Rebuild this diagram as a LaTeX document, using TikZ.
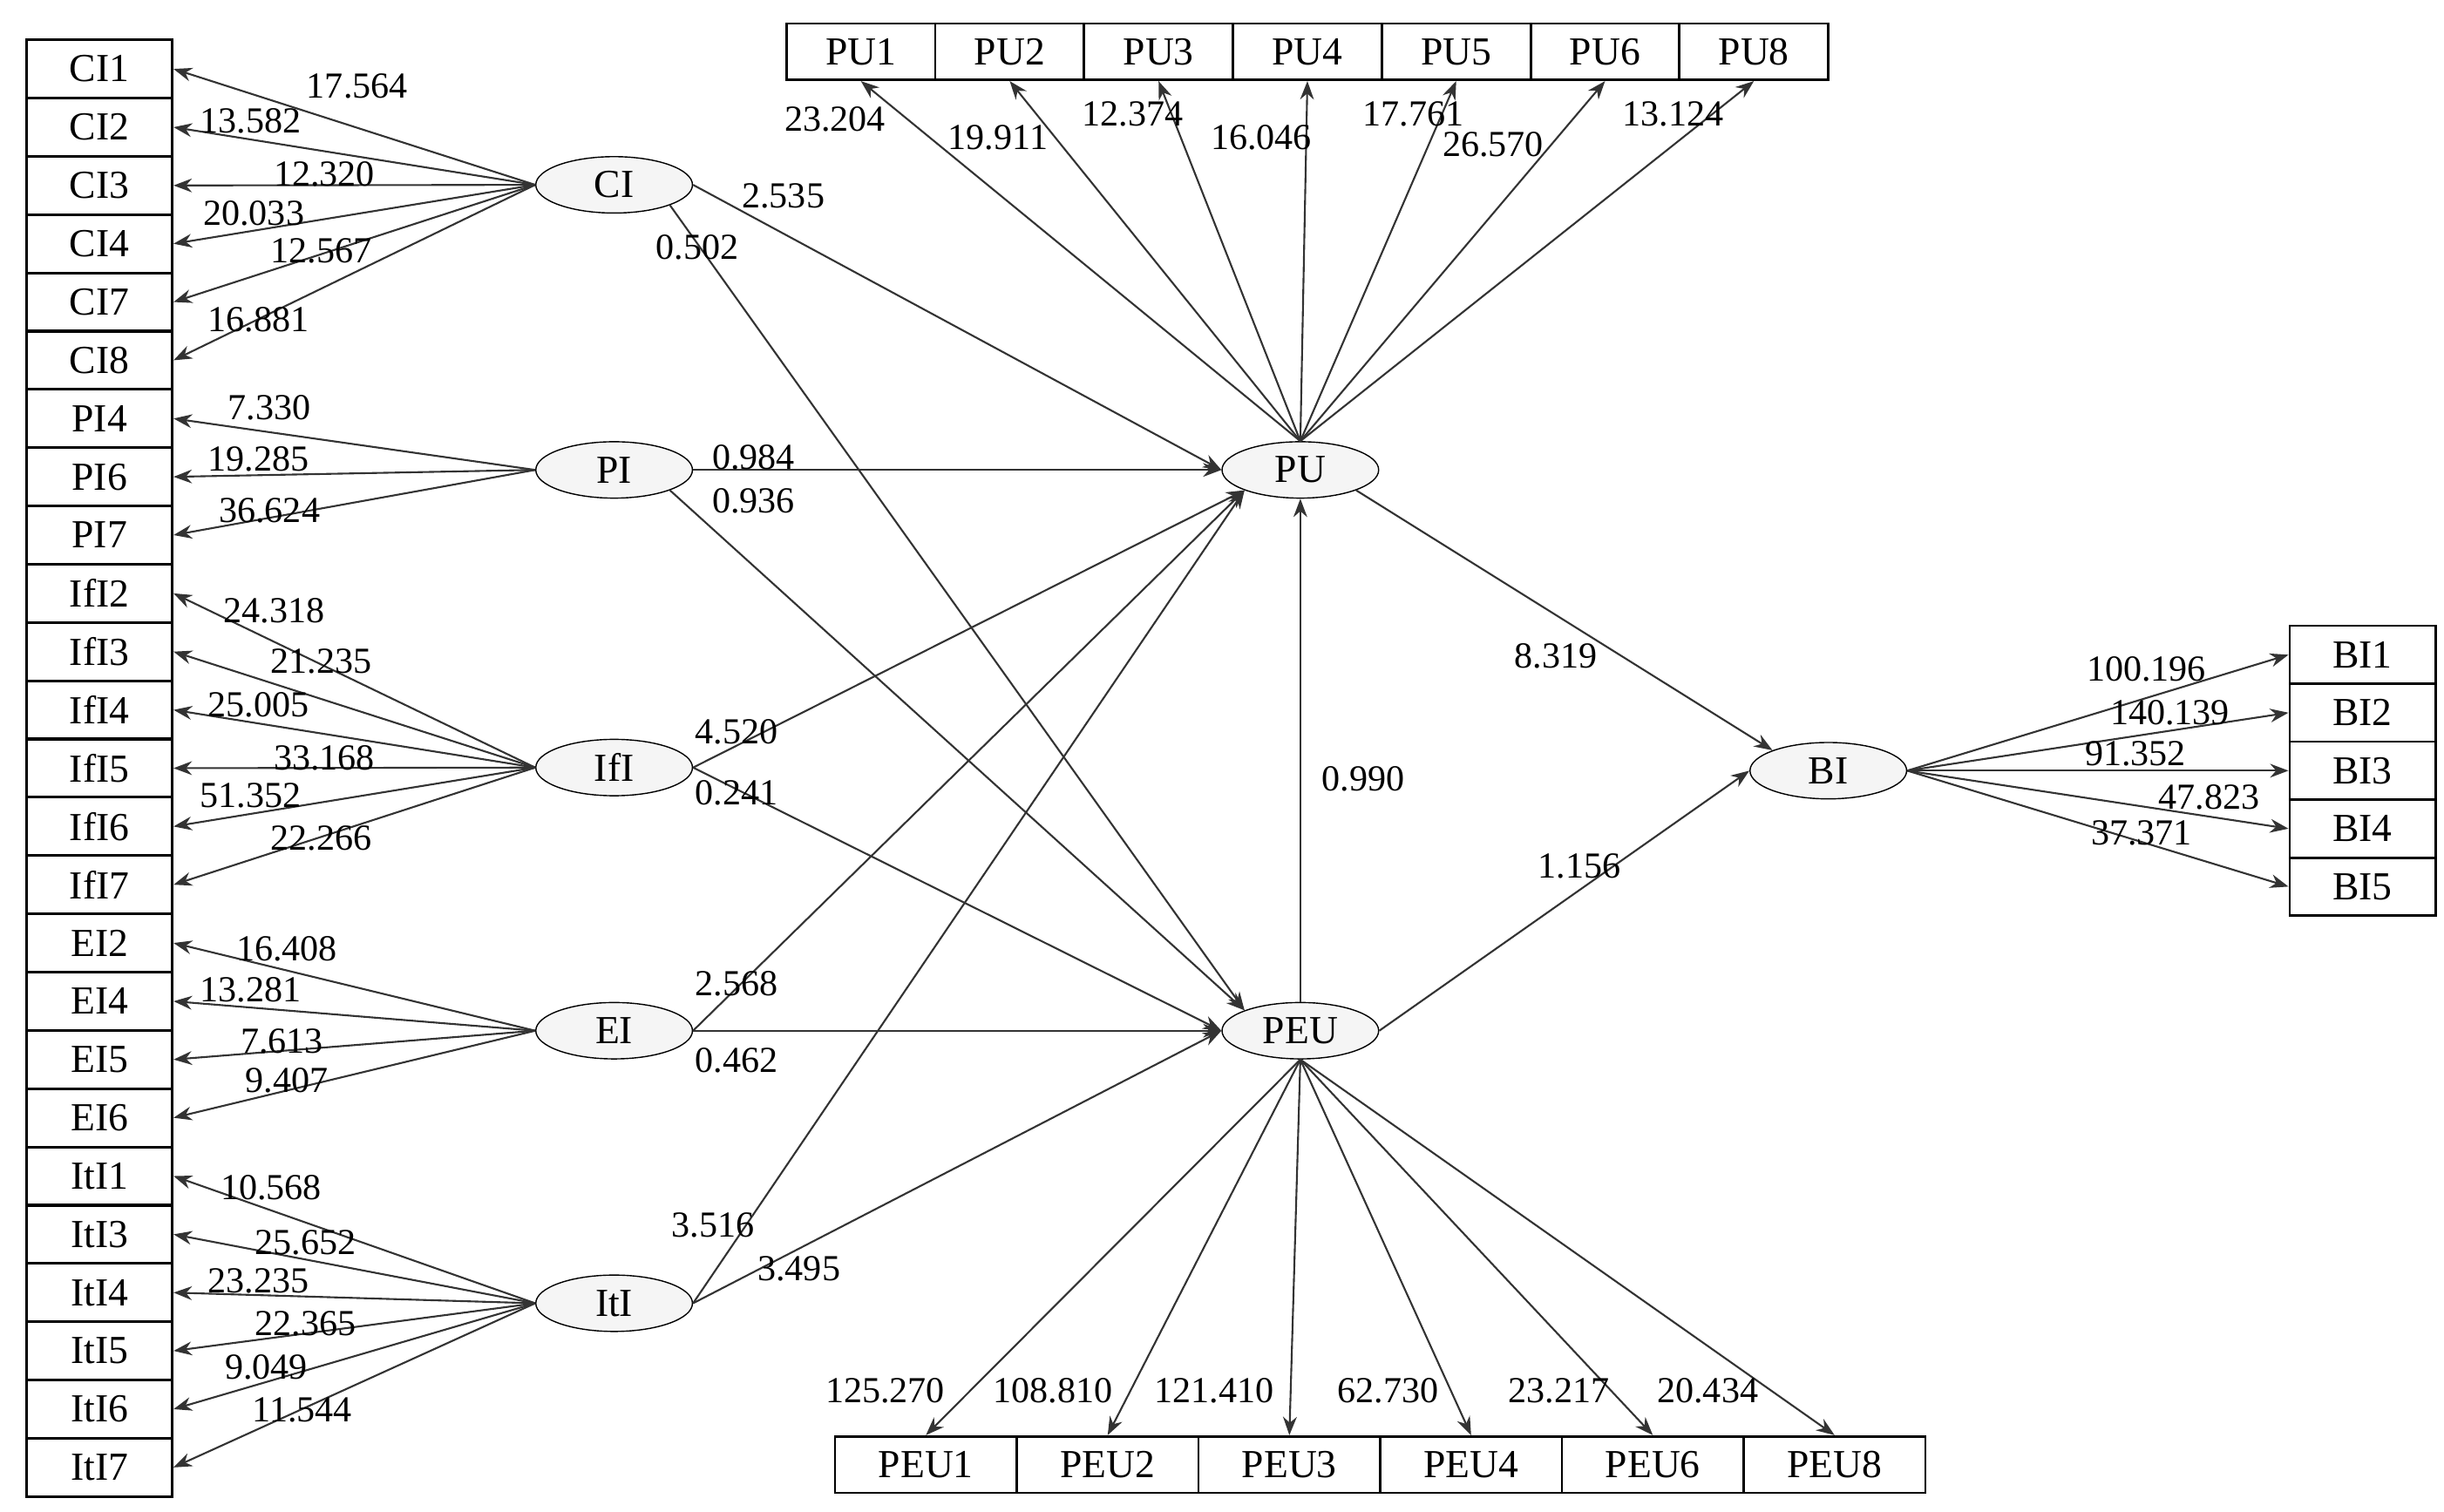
\documentclass[tikz,border=0pt]{standalone}
\usepackage{fontspec}
\setmainfont{Liberation Serif}
\usetikzlibrary{arrows.meta,shapes.geometric}
\begin{document}
\begin{tikzpicture}[x=0.018cm,y=-0.018cm,
  lbox/.style={draw,thick,fill=white,minimum width=93*0.018cm,minimum height=37*0.018cm,inner sep=0pt,font=\fontsize{13}{15}\selectfont},
  tbox/.style={lbox,minimum width=95*0.018cm,minimum height=36*0.018cm},
  bbox/.style={lbox,minimum width=116*0.018cm,minimum height=36*0.018cm},
  lat/.style={draw,ellipse,fill=gray!8,minimum width=100*0.018cm,minimum height=36*0.018cm,inner sep=0pt,font=\fontsize{13}{15}\selectfont},
  arr/.style={-{Stealth[length=6pt,width=4.5pt]},semithick,draw=black!80},
  num/.style={font=\fontsize{12}{14}\selectfont,inner sep=0pt}]
\useasboundingbox (0,0) rectangle (1560,965);
% left boxes
\foreach \n [count=\i from 0] in {CI1,CI2,CI3,CI4,CI7,CI8,PI4,PI6,PI7,IfI2,IfI3,IfI4,IfI5,IfI6,IfI7,EI2,EI4,EI5,EI6,ItI1,ItI3,ItI4,ItI5,ItI6,ItI7}
  \node[lbox] (\n) at (63.5,{44+37.2*\i}) {\n};
\foreach \n [count=\i from 0] in {PU1,PU2,PU3,PU4,PU5,PU6,PU8}
  \node[tbox] (\n) at ({549.5+95*\i},33) {\n};
\foreach \n [count=\i from 0] in {PEU1,PEU2,PEU3,PEU4,PEU6,PEU8}
  \node[bbox] (\n) at ({591+116*\i},935) {\n};
\foreach \n [count=\i from 0] in {BI1,BI2,BI3,BI4,BI5}
  \node[lbox] (\n) at (1508,{418+37*\i}) {\n};
% latent
\node[lat] (CI) at (392,118) {CI};
\node[lat] (PI) at (392,300) {PI};
\node[lat] (IfI) at (392,490) {IfI};
\node[lat] (EI) at (392,658) {EI};
\node[lat] (ItI) at (392,832) {ItI};
\node[lat] (PU) at (830,300) {PU};
\node[lat] (PEU) at (830,658) {PEU};
\node[lat] (BI) at (1167,492) {BI};
% measurement arrows
\foreach \n in {CI1,CI2,CI3,CI4,CI7,CI8} \draw[arr] (CI.west) -- (\n.east);
\foreach \n in {PI4,PI6,PI7} \draw[arr] (PI.west) -- (\n.east);
\foreach \n in {IfI2,IfI3,IfI4,IfI5,IfI6,IfI7} \draw[arr] (IfI.west) -- (\n.east);
\foreach \n in {EI2,EI4,EI5,EI6} \draw[arr] (EI.west) -- (\n.east);
\foreach \n in {ItI1,ItI3,ItI4,ItI5,ItI6,ItI7} \draw[arr] (ItI.west) -- (\n.east);
\foreach \n in {PU1,PU2,PU3,PU4,PU5,PU6,PU8} \draw[arr] (PU.north) -- (\n.south);
\foreach \n in {PEU1,PEU2,PEU3,PEU4,PEU6,PEU8} \draw[arr] (PEU.south) -- (\n.north);
\foreach \n in {BI1,BI2,BI3,BI4,BI5} \draw[arr] (BI.east) -- (\n.west);
% structural
\draw[arr] (CI.east) -- (PU.west);
\draw[arr] (CI.south east) -- (PEU.north west);
\draw[arr] (PI.east) -- (PU.west);
\draw[arr] (PI.south east) -- (PEU.north west);
\draw[arr] (IfI.east) -- (PU.south west);
\draw[arr] (IfI.east) -- (PEU.west);
\draw[arr] (EI.east) -- (PU.south west);
\draw[arr] (EI.east) -- (PEU.west);
\draw[arr] (ItI.east) -- (PU.south west);
\draw[arr] (ItI.east) -- (PEU.west);
\draw[arr] (PEU.north) -- (PU.south);
\draw[arr] (PU.south east) -- (BI.north west);
\draw[arr] (PEU.east) -- (BI.west);
% labels
\foreach \t/\x/\y in {17.564/228/55,13.582/160/77,12.320/207/111,20.033/162/136,12.567/205/160,16.881/165/204,
 7.330/172/260,19.285/165/293,36.624/172/326,
 24.318/175/390,21.235/205/422,25.005/165/450,33.168/207/484,51.352/160/508,22.266/205/535,
 16.408/183/606,13.281/160/632,7.613/180/665,9.407/183/690,
 10.568/173/758,25.652/195/793,23.235/165/818,22.365/195/845,9.049/170/873,11.544/193/900,
 23.204/533/76,19.911/637/88,12.374/723/73,16.046/805/88,17.761/902/73,26.570/953/92,13.124/1068/73,
 125.270/565/888,108.810/672/888,121.410/775/888,62.730/886/888,23.217/995/888,20.434/1090/888,
 100.196/1370/427,140.139/1385/455,91.352/1363/481,47.823/1410/509,37.371/1367/532,
 2.535/500/125,0.502/445/158,0.984/481/292,0.936/481/320,4.520/470/467,0.241/470/506,
 2.568/470/628,0.462/470/677,3.516/455/782,3.495/510/810,0.990/870/497,8.319/993/419,1.156/1008/553}
 \node[num] (n\x-\y) at (\x,\y) {\t};
\end{tikzpicture}
\end{document}
